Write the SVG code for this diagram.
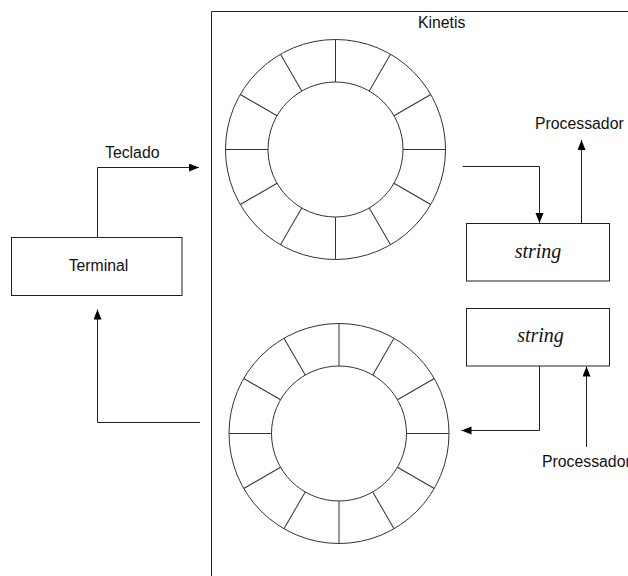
<svg xmlns="http://www.w3.org/2000/svg" xmlns:xlink="http://www.w3.org/1999/xlink" width="628" height="576" viewBox="0 0 628 576">
<style>
.ln{fill:none;stroke:#222;stroke-width:1}
.box{fill:#fff;stroke:#222;stroke-width:1}
.lbl{font-family:"Liberation Sans",Arial,sans-serif;font-size:15.8px;fill:#111}
.str{font-family:"Liberation Serif","Times New Roman",serif;font-style:italic;font-size:20px;fill:#111}
.ring{fill:none;stroke:#333;stroke-width:1}
</style>
<defs>
<marker id="ah" markerWidth="11" markerHeight="9" refX="10" refY="4" orient="auto" markerUnits="userSpaceOnUse">
<path d="M0,0 L10,4 L0,8 z" fill="#000"/>
</marker>
<g id="ringShape">
<circle class="ring" r="110"/>
<circle class="ring" r="67.5"/>
<g class="ring">
<line x1="0" y1="-67.5" x2="0" y2="-110"/>
<line x1="0" y1="-67.5" x2="0" y2="-110" transform="rotate(30)"/>
<line x1="0" y1="-67.5" x2="0" y2="-110" transform="rotate(60)"/>
<line x1="0" y1="-67.5" x2="0" y2="-110" transform="rotate(90)"/>
<line x1="0" y1="-67.5" x2="0" y2="-110" transform="rotate(120)"/>
<line x1="0" y1="-67.5" x2="0" y2="-110" transform="rotate(150)"/>
<line x1="0" y1="-67.5" x2="0" y2="-110" transform="rotate(180)"/>
<line x1="0" y1="-67.5" x2="0" y2="-110" transform="rotate(210)"/>
<line x1="0" y1="-67.5" x2="0" y2="-110" transform="rotate(240)"/>
<line x1="0" y1="-67.5" x2="0" y2="-110" transform="rotate(270)"/>
<line x1="0" y1="-67.5" x2="0" y2="-110" transform="rotate(300)"/>
<line x1="0" y1="-67.5" x2="0" y2="-110" transform="rotate(330)"/>
</g>
</g>
</defs>
<rect width="628" height="576" fill="#fff"/>

<g id="kinetis">
<path class="ln" d="M211.5,576 V11.5 H628"/>
<text class="lbl" x="418" y="28">Kinetis</text>
</g>

<g id="ring-rx">
<use xlink:href="#ringShape" href="#ringShape" transform="translate(335.5,149.5)"/>
</g>

<g id="ring-tx">
<use xlink:href="#ringShape" href="#ringShape" transform="translate(339,433.5)"/>
</g>

<g id="terminal">
<rect class="box" x="11.5" y="237.5" width="170.5" height="58"/>
<text class="lbl" x="98.5" y="271" text-anchor="middle">Terminal</text>
</g>

<g id="string-rx">
<rect class="box" x="466.5" y="223.5" width="143" height="57.5"/>
<text class="str" x="538" y="258" text-anchor="middle">string</text>
</g>

<g id="string-tx">
<rect class="box" x="466.5" y="308.5" width="143" height="57.5"/>
<text class="str" x="540.5" y="342" text-anchor="middle">string</text>
</g>

<g id="label-teclado">
<text class="lbl" x="105" y="158">Teclado</text>
</g>
<g id="label-proc-top">
<text class="lbl" x="535" y="129">Processador</text>
</g>
<g id="label-proc-bottom">
<text class="lbl" x="542" y="467">Processador</text>
</g>

<g id="connectors">
<path class="ln" d="M97.5,237.5 V167.5 H199" marker-end="url(#ah)"/>
<path class="ln" d="M200,422.5 H97.5 V309.5" marker-end="url(#ah)"/>
<path class="ln" d="M462.5,166.5 H539.5 V223" marker-end="url(#ah)"/>
<path class="ln" d="M581.5,223.5 V140" marker-end="url(#ah)"/>
<path class="ln" d="M539.5,366 V430.5 H461.5" marker-end="url(#ah)"/>
<path class="ln" d="M586.5,447 V366.5" marker-end="url(#ah)"/>
</g>
</svg>
